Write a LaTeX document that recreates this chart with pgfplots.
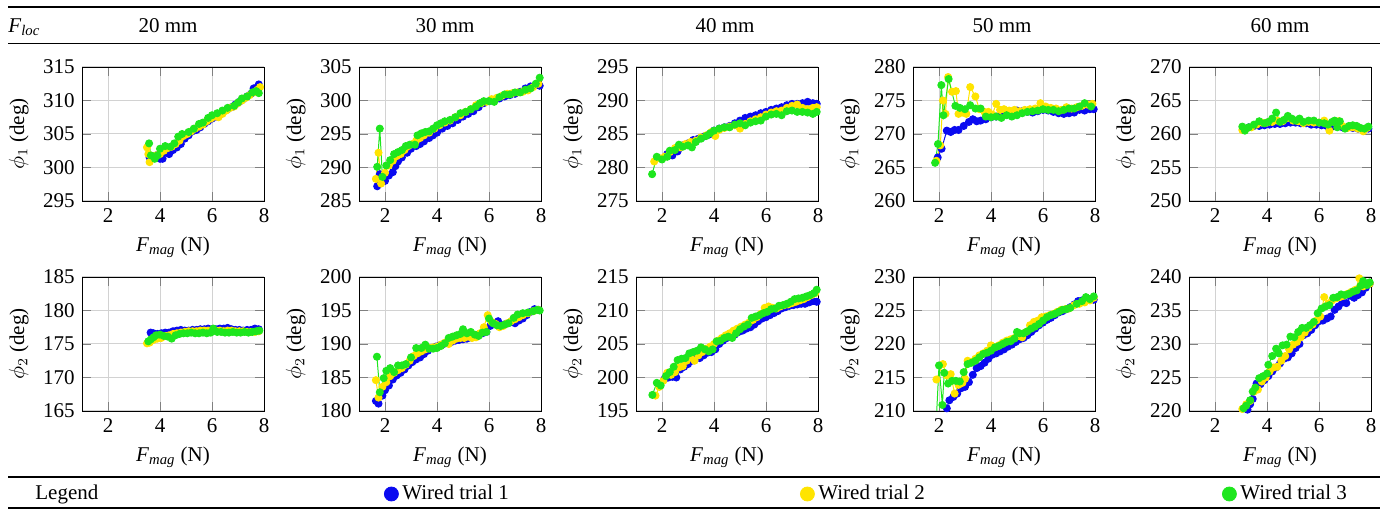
\documentclass[border=0pt]{standalone}
\usepackage{fontspec}
\setmainfont{Liberation Serif}
\usepackage{pgfplots}
\pgfplotsset{compat=1.18}
\definecolor{cb}{RGB}{10,10,240}
\definecolor{cy}{RGB}{255,228,0}
\definecolor{cg}{RGB}{30,230,30}
\pgfplotsset{
  panel/.style={scale only axis, width=91pt, height=67pt, xmin=1, xmax=8,
    xtick={2,4,6,8}, ytick distance=5, grid=major,
    grid style={gray!35, line width=0.5pt},
    /pgf/number format/assume math mode=true,
    xlabel={\textit{F}\textsubscript{\textit{mag}} (N)},
    anchor=north west, clip mode=global},
  sb/.style={color=cb, mark=*, mark size=1.75pt, line width=0.5pt, mark options={solid}},
  sy/.style={color=cy, mark=*, mark size=1.75pt, line width=0.5pt, mark options={solid}},
  sg/.style={color=cg, mark=*, mark size=1.75pt, line width=0.5pt, mark options={solid}},
  leg/.style={hide axis, scale only axis, width=1pt, height=1pt, xmin=0, xmax=1, ymin=0, ymax=1,
    anchor=center,
    legend style={draw=none, fill=none, at={(0.5,0.5)}, anchor=west, inner sep=0pt},
    legend image code/.code={\draw[##1] plot coordinates {(0pt,0pt)};}},
}
\begin{document}
\fontsize{10.5pt}{12.6pt}\selectfont
\begin{tikzpicture}
\path[use as bounding box] (0pt,0pt) rectangle (694pt,-256pt);
% rules
\draw[line width=0.8pt] (4pt,-3.5pt) -- (690pt,-3.5pt);
\draw[line width=0.5pt] (4pt,-22pt) -- (690pt,-22pt);
\draw[line width=0.6pt] (4pt,-238.5pt) -- (690pt,-238.5pt);
\draw[line width=0.8pt] (4pt,-254pt) -- (690pt,-254pt);
% header
\node[anchor=base west, inner sep=0pt] at (4pt,-16.2pt) {\textit{F}\textsubscript{\textit{loc}}};
\node[anchor=base, inner sep=0pt] at (84pt,-16.2pt) {20 mm};
\node[anchor=base, inner sep=0pt] at (222.5pt,-16.2pt) {30 mm};
\node[anchor=base, inner sep=0pt] at (362.5pt,-16.2pt) {40 mm};
\node[anchor=base, inner sep=0pt] at (501pt,-16.2pt) {50 mm};
\node[anchor=base, inner sep=0pt] at (640pt,-16.2pt) {60 mm};
\node[anchor=base west, inner sep=0pt] at (17.5pt,-250pt) {Legend};

% ---------- Row 1 ----------
\begin{axis}[panel, at={(41pt,-33.5pt)}, ymin=295, ymax=315, ylabel={$\phi_1$ (deg)}]
\addplot[sb] coordinates {(3.6,301.5)(3.7,301.6)(3.85,301.8)(4.0,301.3)(4.1,301.3)(4.2,302.3)(4.35,302.0)(4.5,302.6)(4.65,303.0)(4.8,303.5)(4.95,304.3)(5.1,304.8)(5.25,305.4)(5.4,305.6)(5.55,306.0)(5.7,306.5)(5.85,306.9)(6.0,307.3)(6.15,307.6)(6.3,307.9)(6.45,308.4)(6.6,308.7)(6.75,309.0)(6.9,309.4)(7.05,309.8)(7.2,310.2)(7.35,310.6)(7.5,311.0)(7.6,311.8)(7.7,311.9)(7.8,312.4)};
\addplot[sy] coordinates {(3.5,303.0)(3.55,302.0)(3.6,300.8)(3.7,301.5)(3.85,301.8)(4.0,302.0)(4.15,302.5)(4.3,302.9)(4.45,303.1)(4.6,303.5)(4.75,304.0)(4.9,304.7)(5.05,305.0)(5.2,305.4)(5.35,305.8)(5.5,306.1)(5.65,306.4)(5.8,306.9)(5.95,307.3)(6.1,307.6)(6.25,307.5)(6.4,308.0)(6.55,308.5)(6.7,308.9)(6.85,309.1)(7.0,309.6)(7.15,310.0)(7.3,310.4)(7.45,310.8)(7.6,311.2)(7.75,311.6)(7.85,312.0)};
\addplot[sg] coordinates {(3.58,303.6)(3.65,301.8)(3.8,301.3)(3.9,301.8)(4.0,302.8)(4.2,303.2)(4.4,303.1)(4.55,303.6)(4.7,304.6)(4.85,305.0)(5.1,305.3)(5.3,305.8)(5.5,306.5)(5.65,306.7)(5.85,307.4)(6.0,307.8)(6.2,308.1)(6.4,308.5)(6.6,308.9)(6.85,309.2)(7.0,309.7)(7.15,310.3)(7.35,310.6)(7.55,311.2)(7.7,311.4)(7.8,311.1)};
\end{axis}

\begin{axis}[panel, at={(179.5pt,-33.5pt)}, ymin=285, ymax=305, ylabel={$\phi_1$ (deg)}]
\addplot[sb] coordinates {(1.7,287.2)(1.8,289.0)(2.0,288.0)(2.15,288.8)(2.3,289.3)(2.4,290.2)(2.5,290.9)(2.65,291.5)(2.85,292.2)(3.0,292.8)(3.2,293.2)(3.35,293.5)(3.5,293.9)(3.7,294.4)(3.85,294.8)(4.0,295.2)(4.2,295.8)(4.4,296.2)(4.6,296.6)(4.8,297.1)(5.0,297.6)(5.2,298.0)(5.4,298.4)(5.6,299.0)(5.8,299.6)(6.0,299.9)(6.2,300.1)(6.4,300.3)(6.6,300.6)(6.8,300.8)(7.0,301.0)(7.2,301.3)(7.4,301.8)(7.6,302.1)(7.8,302.3)(7.95,302.2)};
\addplot[sy] coordinates {(1.65,288.3)(1.75,292.2)(1.85,287.6)(2.0,289.2)(2.15,290.3)(2.3,291.0)(2.45,291.7)(2.6,292.0)(2.75,292.6)(2.9,293.2)(3.05,293.5)(3.2,294.0)(3.35,294.4)(3.5,294.8)(3.7,295.2)(3.9,295.8)(4.1,296.3)(4.3,296.7)(4.5,297.0)(4.7,297.5)(4.9,297.8)(5.1,298.3)(5.3,298.7)(5.5,299.3)(5.7,299.6)(5.9,299.8)(6.1,300.2)(6.3,300.4)(6.5,300.7)(6.7,301.0)(6.9,301.1)(7.1,301.2)(7.3,301.3)(7.5,301.5)(7.7,302.0)(7.9,302.5)};
\addplot[sg] coordinates {(1.7,290.1)(1.8,295.8)(1.9,288.6)(2.05,290.3)(2.2,291.1)(2.35,292.0)(2.5,292.3)(2.65,292.6)(2.8,293.2)(2.95,293.4)(3.15,293.4)(3.25,294.8)(3.4,295.1)(3.55,295.3)(3.7,295.4)(3.85,295.8)(4.0,296.3)(4.15,296.6)(4.3,296.9)(4.5,297.1)(4.7,297.5)(4.9,298.1)(5.1,298.3)(5.3,298.7)(5.5,299.1)(5.65,299.6)(5.8,299.9)(6.0,299.9)(6.2,299.8)(6.4,300.5)(6.6,300.9)(6.8,300.9)(7.0,301.2)(7.2,301.2)(7.4,301.6)(7.6,301.8)(7.8,302.5)(7.95,303.4)};
\end{axis}

\begin{axis}[panel, at={(318pt,-33.5pt)}, ymin=275, ymax=295, ylabel={$\phi_1$ (deg)}]
\addplot[sb] coordinates {(2.2,282.0)(2.4,281.8)(2.6,282.4)(2.8,283.3)(3.0,283.6)(3.2,284.1)(3.4,284.3)(3.6,284.6)(3.8,284.9)(4.0,285.5)(4.2,285.8)(4.4,286.0)(4.6,286.2)(4.8,286.6)(5.0,287.0)(5.2,287.4)(5.4,287.6)(5.6,287.8)(5.8,288.1)(6.0,288.3)(6.2,288.6)(6.4,288.8)(6.6,289.0)(6.8,289.3)(7.0,289.5)(7.2,289.5)(7.4,289.6)(7.6,289.8)(7.8,289.6)(7.95,289.5)};
\addplot[sy] coordinates {(1.7,280.9)(1.9,281.4)(2.1,281.6)(2.3,282.3)(2.5,282.9)(2.7,283.0)(2.9,283.5)(3.1,283.8)(3.3,284.0)(3.5,284.5)(3.7,284.8)(3.9,285.3)(4.05,284.7)(4.2,285.6)(4.4,285.9)(4.6,286.1)(4.8,286.3)(5.0,285.8)(5.2,286.5)(5.4,286.9)(5.6,287.2)(5.8,287.5)(6.0,287.9)(6.2,288.2)(6.4,288.4)(6.6,288.5)(6.8,288.9)(7.0,289.2)(7.2,289.4)(7.4,288.9)(7.6,288.7)(7.8,288.9)(7.95,289.0)};
\addplot[sg] coordinates {(1.62,279.0)(1.8,281.6)(2.0,281.2)(2.2,281.6)(2.3,282.5)(2.5,282.6)(2.65,283.4)(2.8,283.1)(3.0,283.3)(3.15,283.0)(3.3,283.8)(3.5,284.3)(3.7,284.7)(3.85,285.1)(4.0,285.5)(4.2,285.8)(4.4,286.0)(4.6,286.0)(4.8,286.4)(5.0,286.6)(5.2,286.3)(5.4,286.7)(5.6,286.9)(5.8,287.0)(6.0,287.6)(6.2,287.9)(6.4,288.0)(6.6,287.8)(6.8,288.4)(7.0,288.5)(7.2,288.3)(7.4,288.3)(7.6,288.2)(7.8,288.0)(7.95,288.3)};
\end{axis}

\begin{axis}[panel, at={(456.5pt,-33.5pt)}, ymin=260, ymax=280, ylabel={$\phi_1$ (deg)}]
\addplot[sb] coordinates {(1.95,266.5)(2.1,267.8)(2.3,270.5)(2.45,270.3)(2.6,270.6)(2.75,270.6)(2.95,271.2)(3.15,271.8)(3.3,272.2)(3.45,271.9)(3.6,272.0)(3.8,272.2)(4.0,272.5)(4.2,272.6)(4.4,272.9)(4.6,273.1)(4.8,273.3)(5.0,273.5)(5.2,273.4)(5.4,273.3)(5.6,273.2)(5.8,273.4)(6.0,273.6)(6.2,273.5)(6.4,273.3)(6.6,273.1)(6.8,273.0)(7.0,273.1)(7.2,273.2)(7.4,273.6)(7.6,273.5)(7.8,273.7)(7.95,273.7)};
\addplot[sy] coordinates {(1.9,266.0)(2.05,268.3)(2.15,275.0)(2.25,273.0)(2.35,278.5)(2.5,276.3)(2.65,276.4)(2.75,273.0)(2.9,273.2)(3.05,273.0)(3.2,277.0)(3.4,275.6)(3.55,273.7)(3.75,273.3)(3.9,273.3)(4.05,272.9)(4.2,274.5)(4.35,273.6)(4.5,273.7)(4.7,273.5)(4.9,273.6)(5.1,273.4)(5.3,273.6)(5.5,273.7)(5.7,273.8)(5.9,274.6)(6.1,274.1)(6.3,273.9)(6.5,273.8)(6.7,273.6)(6.9,274.0)(7.1,273.8)(7.3,274.0)(7.5,274.2)(7.7,274.4)(7.9,274.5)};
\addplot[sg] coordinates {(1.85,265.7)(1.96,268.5)(2.09,277.3)(2.17,272.8)(2.37,278.2)(2.63,274.2)(2.8,273.9)(3.0,273.7)(3.2,274.3)(3.4,273.8)(3.6,273.8)(3.8,272.6)(4.0,272.5)(4.2,272.6)(4.4,272.4)(4.6,272.8)(4.8,272.6)(5.0,272.8)(5.2,273.1)(5.4,273.3)(5.6,273.4)(5.8,273.5)(6.0,273.7)(6.2,273.6)(6.4,273.6)(6.6,273.4)(6.8,273.6)(7.0,273.8)(7.2,273.8)(7.4,274.1)(7.6,274.6)(7.85,274.1)};
\end{axis}

\begin{axis}[panel, at={(594.5pt,-33.5pt)}, ymin=250, ymax=270, ylabel={$\phi_1$ (deg)}]
\addplot[sb] coordinates {(3.1,260.8)(3.3,261.0)(3.5,261.2)(3.7,261.2)(3.9,261.3)(4.1,261.4)(4.3,261.5)(4.5,261.5)(4.7,261.6)(4.9,261.7)(5.1,261.7)(5.3,261.6)(5.5,261.6)(5.7,261.4)(5.9,261.4)(6.1,261.3)(6.3,261.2)(6.5,261.1)(6.7,261.2)(6.9,261.0)(7.1,261.0)(7.3,260.9)(7.5,260.8)(7.7,260.7)(7.9,260.8)};
\addplot[sy] coordinates {(3.05,260.6)(3.2,260.8)(3.4,261.0)(3.6,261.4)(3.8,261.7)(4.0,261.7)(4.2,261.8)(4.4,262.0)(4.6,261.9)(4.8,262.4)(5.0,262.0)(5.2,261.9)(5.4,261.6)(5.6,261.8)(5.8,261.7)(6.0,261.7)(6.2,262.0)(6.4,260.5)(6.6,261.8)(6.75,261.9)(6.9,261.2)(7.1,260.9)(7.3,261.0)(7.5,260.8)(7.7,260.4)(7.85,260.9)};
\addplot[sg] coordinates {(3.05,261.1)(3.15,260.5)(3.3,261.0)(3.5,261.4)(3.7,261.9)(3.9,261.6)(4.05,261.8)(4.2,262.3)(4.35,263.2)(4.5,261.8)(4.65,262.1)(4.8,262.7)(4.95,262.3)(5.1,262.0)(5.25,262.3)(5.4,261.8)(5.6,262.0)(5.8,262.0)(6.0,261.7)(6.2,261.6)(6.35,261.4)(6.5,261.8)(6.6,262.0)(6.7,261.0)(6.8,261.9)(7.0,260.8)(7.15,261.2)(7.3,261.3)(7.45,261.2)(7.6,260.9)(7.75,260.8)(7.9,261.1)};
\end{axis}

% ---------- Row 2 ----------
\begin{axis}[panel, at={(41pt,-138.5pt)}, ymin=165, ymax=185, ylabel={$\phi_2$ (deg)}]
\addplot[sb] coordinates {(3.64,176.7)(3.75,176.6)(3.9,176.5)(4.05,176.6)(4.2,176.7)(4.35,176.7)(4.5,176.9)(4.65,177.0)(4.8,177.1)(4.95,177.0)(5.1,177.0)(5.25,177.1)(5.4,177.1)(5.55,177.2)(5.7,177.2)(5.85,177.3)(6.0,177.2)(6.15,177.2)(6.3,177.3)(6.45,177.3)(6.6,177.4)(6.75,177.2)(6.9,177.1)(7.05,177.1)(7.2,177.0)(7.35,177.1)(7.5,177.1)(7.65,177.3)(7.8,177.2)};
\addplot[sy] coordinates {(3.5,175.1)(3.6,175.2)(3.75,175.6)(3.9,175.8)(4.05,175.9)(4.2,176.2)(4.35,176.3)(4.5,176.5)(4.65,176.6)(4.8,176.7)(4.95,176.8)(5.1,176.9)(5.25,176.9)(5.4,176.9)(5.55,177.0)(5.7,177.0)(5.85,177.0)(6.0,177.1)(6.15,177.0)(6.3,177.0)(6.45,176.9)(6.6,177.0)(6.75,177.0)(6.9,176.9)(7.05,176.9)(7.2,176.9)(7.35,176.8)(7.5,176.8)(7.65,176.8)(7.8,176.9)};
\addplot[sg] coordinates {(3.55,175.4)(3.65,175.7)(3.75,176.0)(3.85,176.3)(4.0,176.4)(4.15,176.2)(4.3,176.1)(4.45,175.8)(4.6,176.3)(4.75,176.5)(4.9,176.6)(5.05,176.6)(5.2,176.7)(5.35,176.6)(5.5,176.6)(5.65,176.7)(5.8,176.6)(5.95,176.7)(6.05,177.3)(6.2,176.8)(6.35,176.8)(6.5,176.7)(6.65,176.7)(6.8,176.8)(6.95,176.7)(7.1,176.7)(7.25,176.8)(7.4,176.7)(7.55,176.8)(7.7,176.9)(7.82,177.0)};
\end{axis}

\begin{axis}[panel, at={(179.5pt,-138.5pt)}, ymin=180, ymax=200, ylabel={$\phi_2$ (deg)}]
\addplot[sb] coordinates {(1.65,181.5)(1.75,181.1)(1.9,182.3)(2.0,183.1)(2.15,183.8)(2.3,184.7)(2.45,185.3)(2.6,185.7)(2.75,186.2)(2.9,186.8)(3.05,187.3)(3.2,187.7)(3.35,188.0)(3.5,188.5)(3.65,189.0)(3.8,189.4)(3.95,189.6)(4.1,189.8)(4.25,190.0)(4.4,190.3)(4.55,190.3)(4.7,190.5)(4.85,190.6)(5.0,190.7)(5.15,190.8)(5.3,191.0)(5.45,191.2)(5.6,191.4)(5.75,191.6)(5.9,191.8)(6.05,192.7)(6.2,193.1)(6.35,193.4)(6.5,192.8)(6.65,193.0)(6.8,193.2)(7.0,193.1)(7.15,193.5)(7.3,193.8)(7.45,194.3)(7.6,194.8)(7.75,195.2)(7.9,195.1)};
\addplot[sy] coordinates {(1.65,184.6)(1.75,182.0)(1.9,183.6)(2.05,184.3)(2.2,185.2)(2.35,185.7)(2.5,186.1)(2.65,186.4)(2.8,186.9)(2.95,187.5)(3.1,188.2)(3.25,188.6)(3.4,188.9)(3.55,189.2)(3.7,189.4)(3.85,189.5)(4.0,189.6)(4.15,189.9)(4.3,190.2)(4.45,190.0)(4.6,190.5)(4.75,190.8)(4.9,190.9)(5.05,190.9)(5.2,191.1)(5.35,190.9)(5.5,191.0)(5.65,191.6)(5.8,192.5)(5.95,194.3)(6.1,193.3)(6.25,193.0)(6.4,192.5)(6.55,192.7)(6.7,193.1)(6.85,193.4)(7.0,193.7)(7.15,194.0)(7.3,194.3)(7.5,194.6)(7.7,194.9)(7.9,195.1)};
\addplot[sg] coordinates {(1.69,188.1)(1.8,182.8)(1.95,184.9)(2.05,186.0)(2.2,186.4)(2.35,185.8)(2.5,186.8)(2.65,186.8)(2.8,187.0)(3.0,188.0)(3.2,189.4)(3.4,189.4)(3.55,189.9)(3.7,189.3)(3.85,189.3)(4.0,189.4)(4.15,189.7)(4.3,190.1)(4.45,190.9)(4.6,191.1)(4.75,191.3)(4.9,191.5)(5.0,192.2)(5.15,191.6)(5.3,191.8)(5.45,191.4)(5.6,191.2)(5.75,191.7)(5.9,191.8)(6.0,193.8)(6.15,193.1)(6.3,192.8)(6.45,192.7)(6.6,192.9)(6.75,193.1)(6.95,193.9)(7.1,194.4)(7.3,194.6)(7.5,194.7)(7.7,194.9)(7.85,195.1)(7.95,195.0)};
\end{axis}

\begin{axis}[panel, at={(318pt,-138.5pt)}, ymin=195, ymax=215, ylabel={$\phi_2$ (deg)}]
\addplot[sb] coordinates {(2.1,199.8)(2.25,200.0)(2.4,200.1)(2.55,200.0)(2.7,201.2)(2.85,201.6)(3.0,202.0)(3.15,202.5)(3.3,203.0)(3.45,202.9)(3.6,203.3)(3.75,203.7)(3.9,203.8)(4.05,204.2)(4.2,205.0)(4.35,205.5)(4.5,205.9)(4.65,206.2)(4.8,206.4)(4.95,206.8)(5.1,207.0)(5.25,207.3)(5.4,207.5)(5.55,207.9)(5.7,208.4)(5.85,208.8)(6.0,209.0)(6.15,209.3)(6.3,209.6)(6.45,209.9)(6.6,210.3)(6.75,210.5)(6.9,210.7)(7.05,210.8)(7.2,210.9)(7.35,211.0)(7.5,211.0)(7.65,211.2)(7.8,211.4)(7.95,211.3)};
\addplot[sy] coordinates {(1.75,197.3)(1.9,198.6)(2.05,199.5)(2.2,200.7)(2.35,200.4)(2.5,200.8)(2.65,201.5)(2.8,201.7)(2.95,202.5)(3.1,203.0)(3.25,202.5)(3.4,203.3)(3.55,203.8)(3.7,204.3)(3.85,204.6)(4.0,205.0)(4.15,205.5)(4.3,205.9)(4.45,206.3)(4.6,206.6)(4.75,207.0)(4.9,207.3)(5.05,207.6)(5.2,207.9)(5.35,208.2)(5.5,208.6)(5.65,209.0)(5.8,209.5)(5.95,210.4)(6.1,210.6)(6.25,210.4)(6.4,210.3)(6.55,210.6)(6.7,210.8)(6.85,210.9)(7.0,211.1)(7.15,211.3)(7.3,211.5)(7.45,211.7)(7.6,212.0)(7.75,212.3)(7.9,212.6)};
\addplot[sg] coordinates {(1.63,197.4)(1.8,199.2)(1.95,198.8)(2.15,200.2)(2.3,200.8)(2.45,201.6)(2.6,202.6)(2.75,202.8)(2.9,202.9)(3.05,203.6)(3.2,203.8)(3.35,204.0)(3.5,204.5)(3.65,204.2)(3.8,203.9)(3.95,204.2)(4.1,205.4)(4.25,205.5)(4.4,205.9)(4.55,206.1)(4.7,205.9)(4.85,206.6)(5.0,207.2)(5.15,207.6)(5.3,207.9)(5.45,208.9)(5.6,209.1)(5.75,209.3)(5.9,209.6)(6.05,209.8)(6.2,210.2)(6.35,210.3)(6.5,210.7)(6.65,210.8)(6.8,211.0)(6.95,211.3)(7.1,211.7)(7.25,211.8)(7.4,211.9)(7.55,212.1)(7.7,212.3)(7.85,212.6)(7.95,213.1)};
\end{axis}

\begin{axis}[panel, at={(456.5pt,-138.5pt)}, ymin=210, ymax=230, ylabel={$\phi_2$ (deg)}]
\addplot[sb] coordinates {(2.3,210.4)(2.4,211.6)(2.55,212.1)(2.7,212.6)(2.85,213.4)(3.0,213.6)(3.15,214.3)(3.3,215.4)(3.45,216.4)(3.6,216.7)(3.75,217.2)(3.9,217.8)(4.05,218.4)(4.2,218.6)(4.35,218.9)(4.5,219.2)(4.65,219.6)(4.8,219.9)(4.95,220.3)(5.1,220.7)(5.25,220.9)(5.4,221.3)(5.55,221.8)(5.7,222.3)(5.85,222.8)(6.0,223.2)(6.15,223.6)(6.3,223.9)(6.45,224.3)(6.6,224.7)(6.75,224.9)(6.9,225.2)(7.05,225.5)(7.2,225.9)(7.35,226.4)(7.5,226.5)(7.65,226.6)(7.8,226.7)(7.95,226.6)};
\addplot[sy] coordinates {(1.9,214.7)(2.15,217.0)(2.3,215.3)(2.45,215.5)(2.6,212.6)(2.75,213.9)(2.9,214.2)(3.0,214.8)(3.1,217.5)(3.25,217.3)(3.4,217.8)(3.55,218.3)(3.7,218.6)(3.85,219.0)(4.0,219.8)(4.15,219.5)(4.3,219.8)(4.45,220.2)(4.6,220.5)(4.75,220.7)(4.9,220.9)(5.05,221.2)(5.2,221.0)(5.35,221.8)(5.5,222.8)(5.65,223.3)(5.8,223.5)(5.95,224.0)(6.1,224.1)(6.25,224.3)(6.4,224.5)(6.55,224.8)(6.7,225.1)(6.85,225.2)(7.0,225.3)(7.2,225.8)(7.4,226.0)(7.6,226.2)(7.8,226.5)(7.95,226.9)};
\addplot[sg] coordinates {(1.85,205.0)(2.0,216.8)(2.13,210.9)(2.2,215.7)(2.35,214.1)(2.5,214.5)(2.65,214.5)(2.8,214.4)(2.95,215.8)(3.1,217.0)(3.25,217.2)(3.4,217.5)(3.55,218.0)(3.7,218.5)(3.85,218.7)(4.0,219.0)(4.15,219.5)(4.3,219.7)(4.45,220.0)(4.6,220.3)(4.75,220.4)(4.9,220.8)(5.0,221.8)(5.1,221.6)(5.25,221.6)(5.4,221.9)(5.55,222.3)(5.7,222.6)(5.85,223.0)(6.0,223.5)(6.15,224.0)(6.3,224.3)(6.45,224.5)(6.6,224.8)(6.75,225.1)(6.9,225.2)(7.05,225.4)(7.3,226.0)(7.5,226.4)(7.65,227.0)(7.8,226.7)(7.95,227.1)};
\end{axis}

\begin{axis}[panel, at={(594.5pt,-138.5pt)}, ymin=220, ymax=240, ylabel={$\phi_2$ (deg)}]
\addplot[sb] coordinates {(3.25,220.2)(3.35,221.0)(3.45,221.8)(3.6,224.1)(3.75,224.0)(3.9,224.6)(4.05,225.2)(4.2,225.9)(4.35,226.5)(4.5,227.1)(4.65,227.8)(4.8,228.0)(4.95,228.6)(5.1,229.4)(5.25,230.0)(5.4,231.3)(5.55,231.6)(5.7,232.1)(5.85,232.8)(6.0,233.4)(6.15,233.5)(6.3,233.8)(6.45,234.1)(6.6,235.1)(6.75,235.6)(6.9,236.2)(7.05,236.1)(7.2,237.2)(7.35,236.9)(7.5,237.3)(7.65,237.7)(7.8,238.4)(7.95,239.0)};
\addplot[sy] coordinates {(3.05,220.3)(3.2,221.0)(3.35,221.5)(3.5,222.9)(3.65,223.2)(3.8,224.4)(3.95,225.0)(4.1,225.9)(4.25,226.5)(4.4,226.6)(4.55,227.5)(4.7,228.2)(4.85,229.2)(5.0,229.9)(5.15,230.3)(5.3,231.0)(5.45,231.7)(5.6,232.4)(5.75,232.9)(5.9,233.5)(6.05,234.1)(6.2,237.0)(6.35,236.0)(6.5,236.5)(6.65,236.8)(6.8,237.0)(6.95,237.2)(7.1,237.5)(7.25,237.8)(7.4,238.1)(7.55,239.8)(7.7,238.6)(7.85,238.9)(7.95,239.0)};
\addplot[sg] coordinates {(3.1,220.4)(3.2,220.8)(3.35,221.6)(3.45,222.9)(3.55,223.5)(3.7,224.9)(3.85,225.2)(4.0,225.6)(4.05,226.9)(4.2,228.2)(4.35,229.3)(4.45,228.6)(4.6,229.8)(4.75,229.9)(4.9,231.1)(5.05,231.0)(5.2,231.8)(5.35,232.4)(5.5,232.4)(5.65,232.8)(5.8,233.3)(5.95,234.6)(6.1,235.3)(6.25,235.6)(6.4,235.8)(6.55,236.9)(6.7,237.0)(6.85,237.4)(7.0,237.3)(7.15,237.5)(7.3,237.8)(7.45,238.0)(7.6,238.7)(7.7,239.4)(7.85,238.8)(7.95,239.2)};
\end{axis}

% ---------- Legend ----------
\begin{axis}[leg, at={(192pt,-247pt)}]
\addlegendimage{only marks, mark=*, color=cb, mark size=3.5pt}
\addlegendentry{Wired trial 1}
\end{axis}
\begin{axis}[leg, at={(400pt,-247pt)}]
\addlegendimage{only marks, mark=*, color=cy, mark size=3.5pt}
\addlegendentry{Wired trial 2}
\end{axis}
\begin{axis}[leg, at={(611pt,-247pt)}]
\addlegendimage{only marks, mark=*, color=cg, mark size=3.5pt}
\addlegendentry{Wired trial 3}
\end{axis}
\end{tikzpicture}
\end{document}
